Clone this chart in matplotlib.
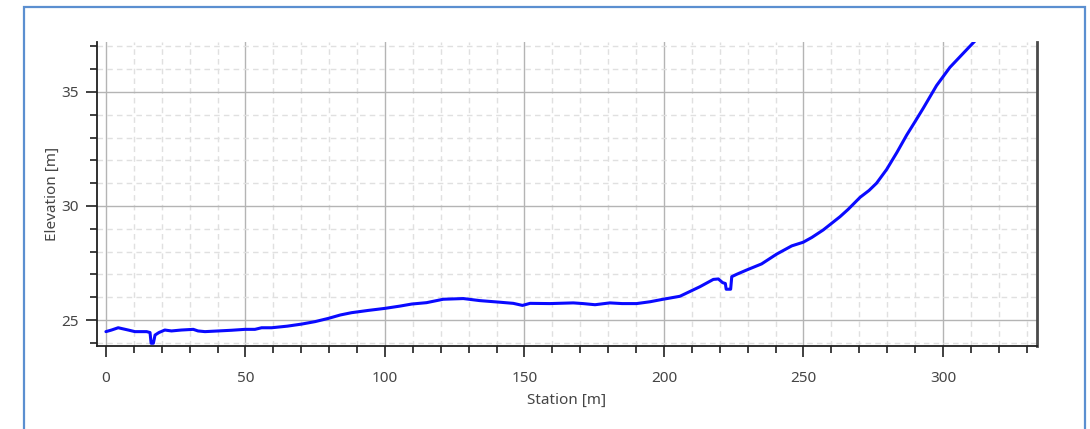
import matplotlib
matplotlib.use("Agg")
import matplotlib.pyplot as plt
from matplotlib.patches import Rectangle
from matplotlib.ticker import MultipleLocator

# Profile data
station = [0, 2, 4.4, 8, 10.4, 14.6, 15.8, 16.2, 17.0, 17.6, 19, 21.1, 23.5, 27, 31.3, 33, 35.5,
           40.3, 45, 49.8, 53.4, 55.8, 59.4, 65, 70.1, 75, 79.7, 84, 88, 94, 100, 105.4, 109.6,
           114.9, 120.9, 128.1, 134, 141.2, 146, 149.3, 152, 159.1, 167.5, 171, 175.3,
           180.6, 185, 190.2, 195, 199.7, 205.7, 210.5, 212.9, 217.7, 219.5, 221, 222.0,
           222.3, 223.9, 224.3, 226, 229.6, 235, 240.4, 245.8, 249.9, 253, 257.1, 263.1,
           266, 270.3, 273.5, 276.2, 279.8, 283.5, 287, 290, 292.9, 297.7, 302.5, 307.3,
           311.5, 313]
elevation = [24.49, 24.56, 24.66, 24.56, 24.49, 24.49, 24.45, 23.98, 23.98, 24.34, 24.45, 24.56,
             24.52, 24.56, 24.59, 24.52, 24.49, 24.52, 24.55, 24.59, 24.59, 24.66, 24.66,
             24.73, 24.82, 24.93, 25.07, 25.22, 25.32, 25.42, 25.51, 25.61, 25.70,
             25.76, 25.91, 25.94, 25.85, 25.78, 25.73, 25.64, 25.73, 25.72, 25.75, 25.72,
             25.67, 25.75, 25.72, 25.72, 25.80, 25.91, 26.04, 26.32, 26.46, 26.78, 26.80,
             26.64, 26.60, 26.35, 26.35, 26.90, 27.00, 27.19, 27.46, 27.89, 28.25, 28.41,
             28.62, 28.95, 29.53, 29.85, 30.38, 30.68, 31.0, 31.6, 32.35, 33.11, 33.70,
             34.28, 35.28, 36.08, 36.70, 37.24, 37.40]

x_major = [0, 50, 100, 150, 200, 250, 300]
y_major = [25, 30, 35]

plt.rcParams['font.family'] = ['Noto Sans', 'DejaVu Sans']

fig = plt.figure(figsize=(10.9, 4.29), dpi=100)
fig.patches.append(Rectangle((24 / 1090, -0.1), (1085 - 24) / 1090, 1.1 - 7 / 429,
                             transform=fig.transFigure, fill=False,
                             edgecolor='#5b8fd0', linewidth=1.6, zorder=0))

ax = fig.add_axes([97 / 1090, 1 - 346 / 429, (1037 - 97) / 1090, (346 - 42) / 429])
ax.plot(station, elevation, color='#0a0aff', linewidth=2.2, solid_joinstyle='round',
        solid_capstyle='round', zorder=3)

ax.set_xlim(-3.2, 333.7)
ax.set_ylim(23.86, 37.19)
ax.set_xticks(x_major)
ax.set_yticks(y_major)
ax.xaxis.set_minor_locator(MultipleLocator(10))
ax.yaxis.set_minor_locator(MultipleLocator(1))

ax.grid(which='major', color='#b4b4b4', linewidth=1.0, linestyle='-')
ax.grid(which='minor', color='#e0e0e0', linewidth=1.0, linestyle=(0, (4, 3)))
ax.set_axisbelow(True)

ax.spines['top'].set_visible(False)
ax.spines['left'].set_color('#202020')
ax.spines['bottom'].set_color('#202020')
ax.spines['left'].set_linewidth(1.3)
ax.spines['bottom'].set_linewidth(1.3)
ax.spines['right'].set_color('#4a4a4a')
ax.spines['right'].set_linewidth(2.0)

ax.tick_params(which='major', length=8, width=1.2, color='#202020',
               labelsize=11, labelcolor='#454545')
ax.tick_params(which='minor', length=5, width=1.2, color='#202020')
ax.tick_params(axis='x', which='major', pad=10)
ax.tick_params(axis='y', which='major', pad=5)
ax.tick_params(axis='y', which='both', right=False)

ax.set_xlabel('Station [m]', fontsize=11, color='#454545', labelpad=5)
ax.set_ylabel('Elevation [m]', fontsize=11, color='#454545', labelpad=1)

fig.savefig('out.png', dpi=100)
